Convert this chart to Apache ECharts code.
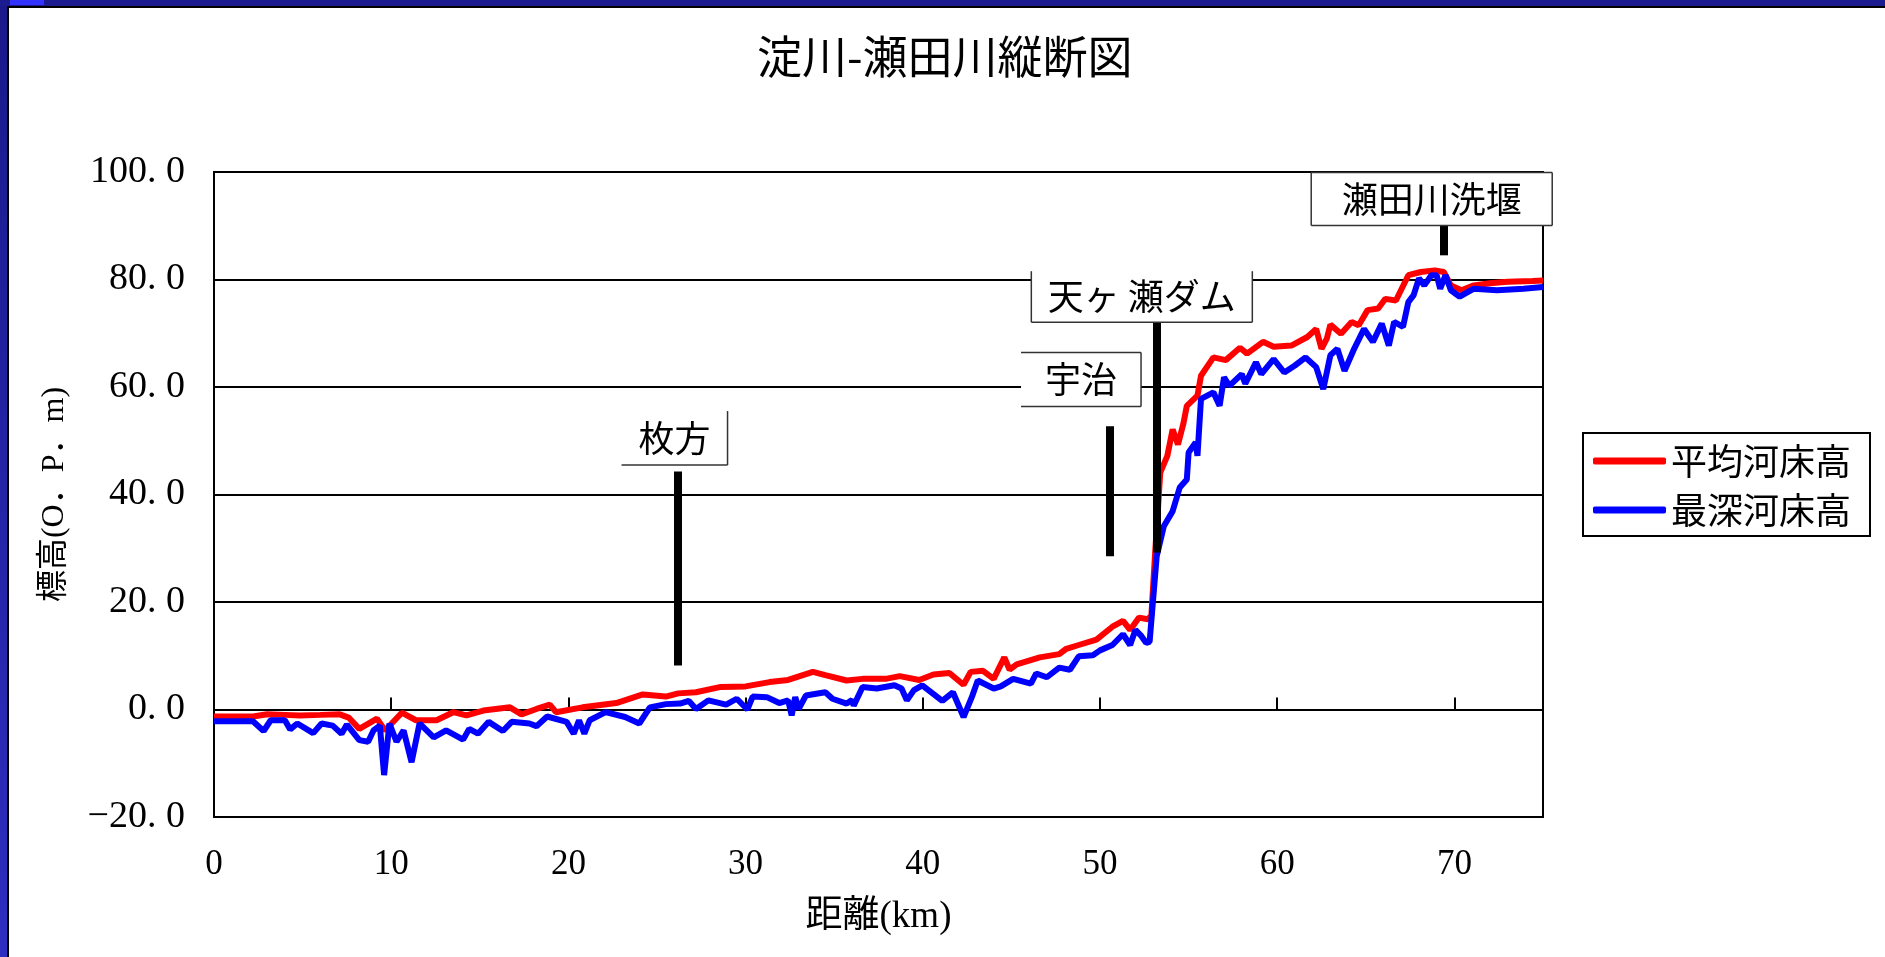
<!DOCTYPE html>
<html>
<head>
<meta charset="utf-8">
<script src="https://cdn.jsdelivr.net/npm/echarts@6/dist/echarts.min.js"></script>
<style>
  html, body { margin: 0; padding: 0; width: 1885px; height: 957px; overflow: hidden; }
  #frame { position: absolute; left: 0; top: 0; width: 1885px; height: 957px;
           background: linear-gradient(#1a1a8c, #2e2ec0); }
  #topband { position: absolute; left: 0; top: 0; width: 1885px; height: 6px; background: #1c1c90; }
  #topaccent { position: absolute; left: 10px; top: 0; width: 34px; height: 5px; background: #3333ff; }
  #paper { position: absolute; left: 7px; top: 6px; right: 0; bottom: 0; background: #fff;
           border-left: 2px solid #000; border-top: 2px solid #000; }
  #chart { position: absolute; left: 0; top: 0; width: 1885px; height: 957px; }
</style>
</head>
<body>
<div id="frame"></div>
<div id="topband"></div>
<div id="topaccent"></div>
<div id="paper"></div>
<div id="chart"></div>
<script>
// ---- Data ----
const titleText = '淀川-瀬田川縦断図';
const xAxisName = '距離(km)';
const yAxisName = '標高(O．P．m)';
const seriesNames = ['平均河床高', '最深河床高'];

// 平均河床高 (mean river-bed elevation)
const avgKm = [0.0, 2.2, 3.0, 4.0, 4.85, 6.0, 7.1, 7.6, 8.2, 9.2, 9.65, 10.6, 11.4, 12.56, 13.5, 14.25, 15.2, 16.7, 17.35, 18.2, 18.95, 19.3, 20.8, 22.7, 24.2, 25.5, 26.2, 27.2, 28.6, 30.0, 31.35, 32.4, 33.8, 34.5, 35.7, 36.6, 37.9, 38.7, 39.8, 40.6, 41.5, 42.3, 42.7, 43.4, 44.0, 44.6, 44.9, 45.3, 46.6, 47.7, 48.1, 48.8, 49.8, 50.7, 51.3, 51.7, 52.2, 52.7, 52.9, 53.1, 53.4, 53.8, 54.1, 54.4, 54.7, 54.9, 55.5, 55.7, 56.4, 57.1, 57.9, 58.3, 59.2, 59.8, 60.8, 61.7, 62.2, 62.5, 62.8, 63.0, 63.6, 64.2, 64.6, 65.1, 65.7, 66.1, 66.7, 67.4, 68.1, 68.9, 69.4, 69.8, 70.4, 71.1, 72.0, 73.0, 74.4, 75.0];
const avgElev = [-1.3, -1.3, -0.9, -1.0, -1.1, -1.0, -0.9, -1.5, -3.6, -1.7, -3.9, -0.6, -2.0, -2.0, -0.5, -1.1, -0.2, 0.4, -0.9, 0.1, 0.9, -0.5, 0.4, 1.2, 2.8, 2.4, 3.0, 3.2, 4.2, 4.3, 5.1, 5.5, 7.0, 6.4, 5.4, 5.7, 5.7, 6.2, 5.5, 6.5, 6.8, 4.6, 7.0, 7.2, 5.7, 9.7, 7.4, 8.4, 9.7, 10.3, 11.3, 12.0, 13.0, 15.4, 16.5, 14.8, 17.1, 16.8, 17.5, 28.5, 44.1, 47.2, 52.1, 49.3, 53.1, 56.5, 58.4, 62.1, 65.5, 65.0, 67.3, 66.2, 68.4, 67.5, 67.7, 69.3, 70.8, 67.1, 69.0, 71.6, 69.9, 72.1, 71.5, 74.3, 74.6, 76.4, 76.1, 80.8, 81.4, 81.7, 81.4, 78.9, 78.0, 78.9, 79.3, 79.6, 79.7, 79.8];

// 最深河床高 (deepest river-bed elevation)
const deepKm = [0.0, 2.2, 2.8, 3.2, 4.0, 4.3, 4.7, 5.6, 6.07, 6.7, 7.2, 7.5, 8.2, 8.7, 9.0, 9.36, 9.6, 9.9, 10.3, 10.7, 11.15, 11.6, 12.4, 13.1, 14.06, 14.4, 14.9, 15.5, 16.3, 16.8, 17.8, 18.2, 18.8, 19.9, 20.3, 20.6, 20.9, 21.2, 22.1, 23.2, 24.0, 24.6, 25.5, 26.3, 26.8, 27.2, 27.9, 28.9, 29.5, 30.1, 30.4, 31.2, 31.9, 32.4, 32.6, 32.8, 33.0, 33.4, 34.5, 34.9, 35.7, 36.0, 36.1, 36.6, 37.4, 38.4, 38.8, 39.1, 39.5, 39.97, 41.1, 41.7, 42.3, 42.8, 43.1, 44.0, 44.4, 45.1, 46.1, 46.4, 47.0, 47.7, 48.3, 48.8, 49.6, 50.0, 50.7, 51.3, 51.7, 52.0, 52.3, 52.6, 52.8, 53.2, 53.6, 54.1, 54.5, 54.9, 55.0, 55.4, 55.5, 55.7, 56.4, 56.75, 57.0, 57.3, 58.0, 58.2, 58.8, 59.1, 59.8, 60.4, 61.0, 61.6, 62.2, 62.6, 63.0, 63.4, 63.8, 64.3, 64.9, 65.4, 65.9, 66.3, 66.6, 67.1, 67.4, 67.7, 68.0, 68.3, 68.7, 69.0, 69.2, 69.5, 69.8, 70.3, 71.1, 72.4, 73.9, 75.0];
const deepElev = [-2.2, -2.2, -4.0, -2.0, -2.0, -3.7, -2.6, -4.4, -2.6, -3.0, -4.5, -2.8, -5.7, -6.0, -3.9, -3.0, -12.2, -2.6, -6.0, -3.9, -9.8, -2.6, -5.2, -3.9, -5.6, -3.6, -4.5, -2.3, -4.0, -2.3, -2.6, -3.1, -1.3, -2.3, -4.5, -2.0, -4.5, -2.0, -0.5, -1.4, -2.6, 0.4, 1.0, 1.1, 1.6, 0.1, 1.7, 0.9, 2.0, 0.0, 2.4, 2.3, 1.2, 1.7, -1.1, 2.3, 0.1, 2.6, 3.2, 2.0, 1.1, 1.8, 0.7, 4.2, 3.9, 4.5, 3.9, 1.7, 3.6, 4.5, 1.6, 3.2, -1.4, 2.6, 5.4, 3.9, 4.3, 5.7, 4.8, 6.7, 6.0, 7.8, 7.4, 9.9, 10.1, 11.0, 12.0, 14.0, 12.0, 14.8, 13.8, 12.4, 12.6, 28.5, 34.1, 36.9, 41.3, 42.8, 47.8, 49.7, 47.2, 57.8, 59.0, 56.5, 61.8, 60.2, 62.4, 60.6, 64.6, 62.4, 65.2, 62.7, 64.0, 65.5, 63.7, 59.6, 65.9, 67.1, 63.0, 66.8, 70.8, 68.4, 71.8, 67.7, 72.1, 71.2, 75.8, 77.1, 80.2, 78.9, 80.8, 80.8, 78.3, 80.8, 78.0, 76.8, 78.3, 78.0, 78.3, 78.6];

// Location markers: name, km of marker bar, bar top/bottom elevation, label anchor (km, elevation)
const markerNames = ['枚方', '宇治', '天ヶ 瀬ダム', '瀬田川洗堰'];
const markerKm = [26.15, 50.56, 53.2, 69.4];
const markerTop = [44.3, 52.7, 72.1, 90.0];
const markerBottom = [8.2, 28.5, 29.2, 84.5];
const labelKm = [25.99, 48.93, 52.36, 68.72];
const labelElev = [50.5, 61.4, 76.8, 95.0];

const xTicks = { min: 0, max: 75, interval: 10 };
const yTicks = { min: -20, max: 100, interval: 20 };

// ---- Styling (not data) ----
const boxSize = [[106, 54], [120, 54], [221, 51], [241, 53]];
const boxSides = [['r', 'b'], ['t', 'r', 'b'], ['l', 'r', 'b'], ['t', 'l', 'r', 'b']];
const serifFont = '"Liberation Serif", "Noto Sans CJK JP", serif';
const cjkFont = '"Noto Sans CJK JP", sans-serif';

const pair = (xs, ys) => xs.map((x, i) => [x, ys[i]]);

const chart = echarts.init(document.getElementById('chart'), null, { renderer: 'canvas' });

const option = {
  animation: false,
  backgroundColor: 'transparent',
  title: {
    text: titleText,
    left: 757, top: 34, padding: 0,
    textStyle: { fontFamily: cjkFont, fontSize: 45, fontWeight: 'normal', color: '#000' }
  },
  legend: {
    orient: 'vertical',
    left: 1583, top: 433,
    data: seriesNames,
    icon: 'roundRect',
    itemWidth: 73, itemHeight: 7,
    itemGap: 13,
    padding: [10, 19, 8, 10],
    backgroundColor: '#fff',
    borderColor: '#000', borderWidth: 2,
    textStyle: { fontFamily: cjkFont, fontSize: 36, color: '#000' }
  },
  grid: {
    left: 214, right: 342, top: 172, bottom: 140,
    show: true, borderColor: '#000', borderWidth: 2, backgroundColor: 'transparent'
  },
  xAxis: {
    type: 'value',
    min: xTicks.min, max: xTicks.max, interval: xTicks.interval,
    name: xAxisName, nameLocation: 'middle', nameGap: 82,
    nameTextStyle: { fontFamily: serifFont, fontSize: 37, color: '#000' },
    axisLine: { show: true, lineStyle: { color: '#000', width: 2 } },
    axisTick: { show: true, inside: true, length: 12, lineStyle: { color: '#000', width: 2 } },
    axisLabel: { showMaxLabel: false, margin: 30, fontFamily: serifFont, fontSize: 35, color: '#000' },
    splitLine: { show: false }
  },
  yAxis: {
    type: 'value',
    min: yTicks.min, max: yTicks.max, interval: yTicks.interval,
    name: yAxisName, nameLocation: 'middle', nameGap: 143, nameRotate: 90,
    nameTextStyle: { fontFamily: serifFont, fontSize: 32, color: '#000' },
    axisLine: { show: true, lineStyle: { color: '#000', width: 2 } },
    axisTick: { show: false },
    axisLabel: {
      margin: 29, fontFamily: serifFont, fontSize: 38, color: '#000',
      formatter: v => v.toFixed(1).replace('.', '. ').replace('-', '\u2212')
    },
    splitLine: { show: true, lineStyle: { color: '#000', width: 2 } }
  },
  series: [
    {
      name: seriesNames[0], type: 'line', data: pair(avgKm, avgElev),
      showSymbol: false, symbol: 'none',
      lineStyle: { color: '#ff0000', width: 6 }, itemStyle: { color: '#ff0000' }, z: 3
    },
    {
      name: seriesNames[1], type: 'line', data: pair(deepKm, deepElev),
      showSymbol: false, symbol: 'none',
      lineStyle: { color: '#0000ff', width: 6 }, itemStyle: { color: '#0000ff' }, z: 4
    },
    {
      name: 'markers', type: 'lines', coordinateSystem: 'cartesian2d',
      data: markerKm.map((k, i) => ({ coords: [[k, markerTop[i]], [k, markerBottom[i]]] })),
      lineStyle: { color: '#000', width: 8, opacity: 1 },
      z: 6, silent: true
    }
  ]
};
chart.setOption(option);

// Label boxes, positioned through the chart's own coordinate conversion
const gfx = [];
markerNames.forEach((name, i) => {
  const [cx, cy] = chart.convertToPixel({ gridIndex: 0 }, [labelKm[i], labelElev[i]]);
  const [w, h] = boxSize[i];
  const x0 = cx - w / 2, y0 = cy - h / 2, x1 = cx + w / 2, y1 = cy + h / 2;
  gfx.push({ type: 'rect', shape: { x: x0, y: y0, width: w, height: h }, style: { fill: '#fff' }, z: 100 });
  const seg = { t: [x0, y0, x1, y0], b: [x0, y1, x1, y1], l: [x0, y0, x0, y1], r: [x1, y0, x1, y1] };
  boxSides[i].forEach(s => {
    const [a, b, c, d] = seg[s];
    gfx.push({ type: 'line', shape: { x1: a, y1: b, x2: c, y2: d }, style: { stroke: '#333', lineWidth: 1.5 }, z: 101 });
  });
  gfx.push({
    type: 'text', x: cx, y: cy, z: 102,
    style: { text: name, font: '36px ' + cjkFont, fill: '#000', align: 'center', verticalAlign: 'middle' }
  });
});
chart.setOption({ graphic: gfx });
</script>
</body>
</html>
